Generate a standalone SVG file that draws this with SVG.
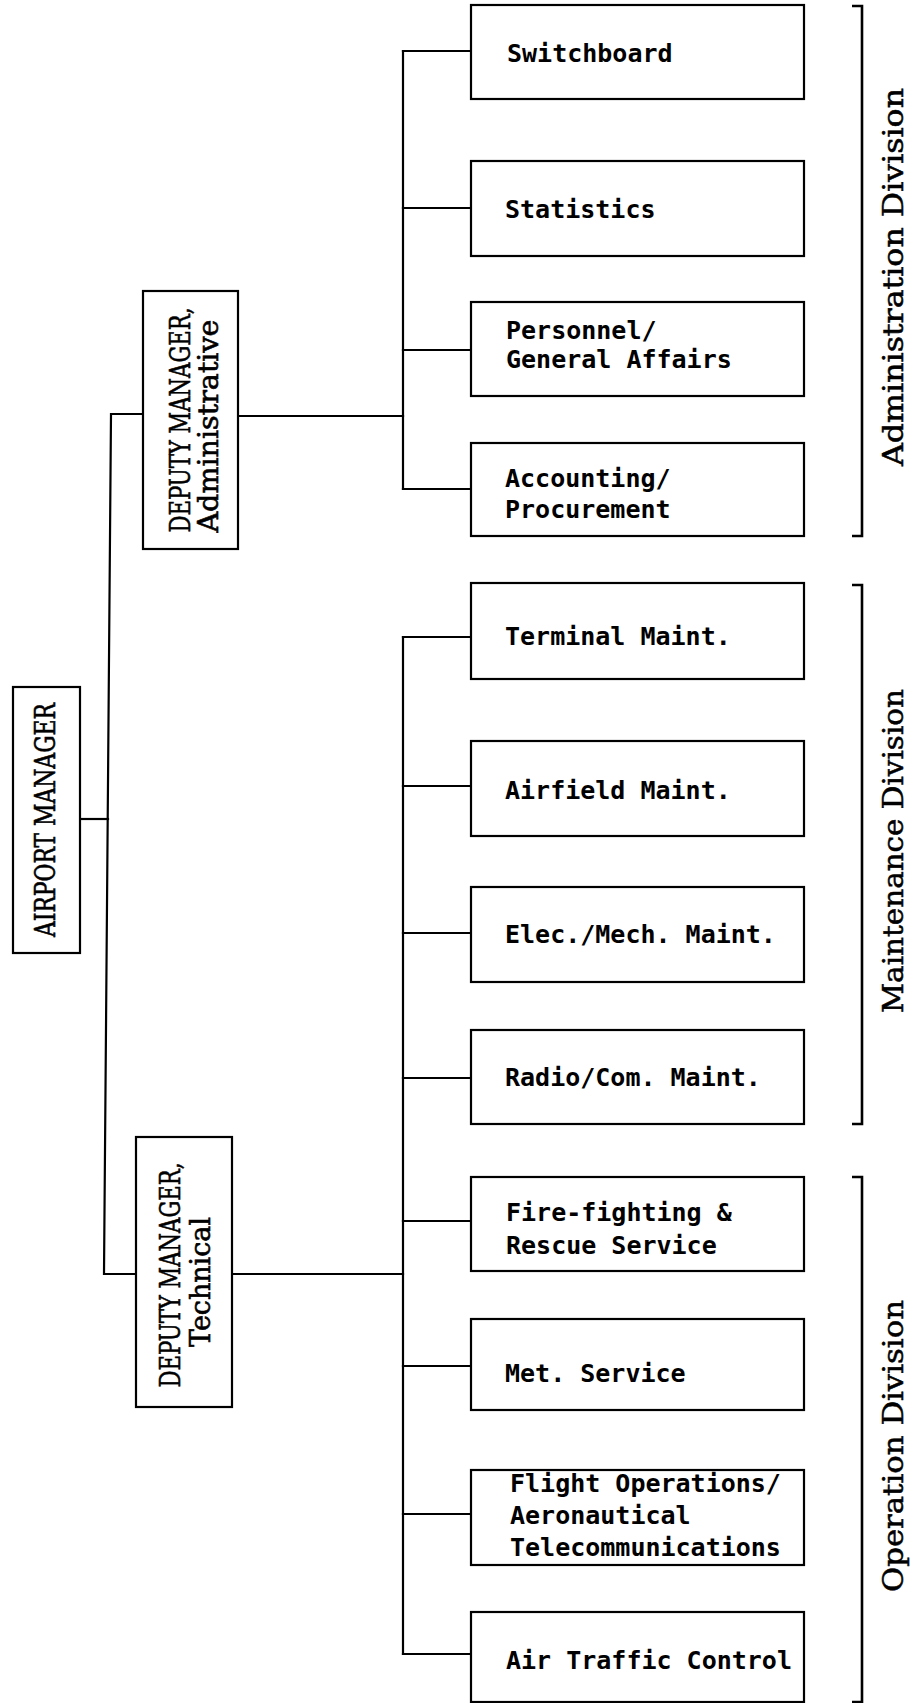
<svg xmlns="http://www.w3.org/2000/svg" width="911" height="1703" viewBox="0 0 911 1703">
<style>
.bg{fill:#ffffff}
.box{fill:#ffffff;stroke:#000;stroke-width:2.2}
.ln{fill:none;stroke:#000;stroke-width:2.2;stroke-linecap:square}
.br{fill:none;stroke:#000;stroke-width:2.6}
.t{font-family:"DejaVu Sans Mono","Liberation Mono",monospace;font-weight:bold;font-size:25px;fill:#000}
.v{font-family:"DejaVu Serif","Liberation Serif",serif;font-size:28px;fill:#000;stroke:#000;stroke-width:0.6}
.d{font-family:"DejaVu Serif","Liberation Serif",serif;font-size:27px;fill:#000;stroke:#000;stroke-width:0.5}
</style>
<rect class="bg" x="0" y="0" width="911" height="1703"/>

<g id="connectors">
  <path class="ln" d="M80,819 H108"/>
  <path class="ln" d="M143,414 H111 L104,1274 H136"/>
  <path class="ln" d="M238,416 H403"/>
  <path class="ln" d="M403,51 V489"/>
  <path class="ln" d="M403,51 H471 M403,208 H471 M403,350 H471 M403,489 H471"/>
  <path class="ln" d="M232,1274 H403"/>
  <path class="ln" d="M403,637 V1654"/>
  <path class="ln" d="M403,637 H471 M403,786 H471 M403,933 H471 M403,1078 H471 M403,1221 H471 M403,1366 H471 M403,1514 H471 M403,1654 H471"/>
</g>

<g id="airport-manager">
  <rect class="box" x="13" y="687" width="67" height="266"/>
  <text class="v" transform="translate(55,820) rotate(-90)" text-anchor="middle" textLength="234" lengthAdjust="spacingAndGlyphs">AIRPORT MANAGER</text>
</g>

<g id="deputy-admin">
  <rect class="box" x="143" y="291" width="95" height="258"/>
  <text class="v" transform="translate(190,420) rotate(-90)" text-anchor="middle" textLength="225" lengthAdjust="spacingAndGlyphs">DEPUTY MANAGER,</text>
  <text class="v" transform="translate(218,426) rotate(-90)" text-anchor="middle" textLength="213" lengthAdjust="spacingAndGlyphs">Administrative</text>
</g>

<g id="deputy-tech">
  <rect class="box" x="136" y="1137" width="96" height="270"/>
  <text class="v" transform="translate(180,1275) rotate(-90)" text-anchor="middle" textLength="225" lengthAdjust="spacingAndGlyphs">DEPUTY MANAGER,</text>
  <text class="v" transform="translate(210,1282) rotate(-90)" text-anchor="middle" textLength="130" lengthAdjust="spacingAndGlyphs">Technical</text>
</g>

<g id="switchboard">
  <rect class="box" x="471" y="5" width="333" height="94"/>
  <text class="t" x="507" y="62">Switchboard</text>
</g>
<g id="statistics">
  <rect class="box" x="471" y="161" width="333" height="95"/>
  <text class="t" x="505" y="218">Statistics</text>
</g>
<g id="personnel">
  <rect class="box" x="471" y="302" width="333" height="94"/>
  <text class="t" x="506" y="339">Personnel/</text>
  <text class="t" x="506" y="368">General Affairs</text>
</g>
<g id="accounting">
  <rect class="box" x="471" y="443" width="333" height="93"/>
  <text class="t" x="505" y="487">Accounting/</text>
  <text class="t" x="505" y="518">Procurement</text>
</g>

<g id="terminal">
  <rect class="box" x="471" y="583" width="333" height="96"/>
  <text class="t" x="505" y="645">Terminal Maint.</text>
</g>
<g id="airfield">
  <rect class="box" x="471" y="741" width="333" height="95"/>
  <text class="t" x="505" y="799">Airfield Maint.</text>
</g>
<g id="elecmech">
  <rect class="box" x="471" y="887" width="333" height="95"/>
  <text class="t" x="505" y="943">Elec./Mech. Maint.</text>
</g>
<g id="radio">
  <rect class="box" x="471" y="1030" width="333" height="94"/>
  <text class="t" x="505" y="1086">Radio/Com. Maint.</text>
</g>

<g id="firefighting">
  <rect class="box" x="471" y="1177" width="333" height="94"/>
  <text class="t" x="506" y="1221">Fire-fighting &amp;</text>
  <text class="t" x="506" y="1254">Rescue Service</text>
</g>
<g id="met">
  <rect class="box" x="471" y="1319" width="333" height="91"/>
  <text class="t" x="505" y="1382">Met. Service</text>
</g>
<g id="flightops">
  <rect class="box" x="471" y="1470" width="333" height="95"/>
  <text class="t" x="510" y="1492">Flight Operations/</text>
  <text class="t" x="510" y="1524">Aeronautical</text>
  <text class="t" x="510" y="1556">Telecommunications</text>
</g>
<g id="atc">
  <rect class="box" x="471" y="1612" width="333" height="90"/>
  <text class="t" x="506" y="1669">Air Traffic Control</text>
</g>

<g id="admin-division">
  <path class="br" d="M852,6 H862 V536 H852"/>
  <text class="d" transform="translate(903,277) rotate(-90)" text-anchor="middle" textLength="378" lengthAdjust="spacingAndGlyphs">Administration Division</text>
</g>
<g id="maintenance-division">
  <path class="br" d="M852,585 H862 V1124 H852"/>
  <text class="d" transform="translate(903,851) rotate(-90)" text-anchor="middle" textLength="324" lengthAdjust="spacingAndGlyphs">Maintenance Division</text>
</g>
<g id="operation-division">
  <path class="br" d="M852,1177 H862 V1702 H852"/>
  <text class="d" transform="translate(903,1446) rotate(-90)" text-anchor="middle" textLength="292" lengthAdjust="spacingAndGlyphs">Operation Division</text>
</g>
</svg>
